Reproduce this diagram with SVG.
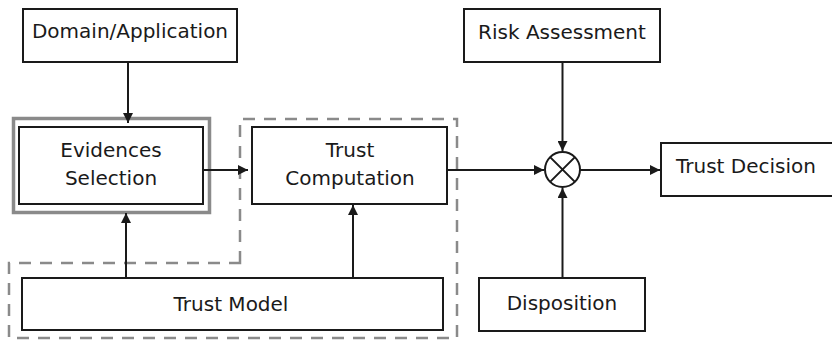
<svg xmlns="http://www.w3.org/2000/svg" width="832" height="342" viewBox="0 0 832 342">
  <style>
    .box { fill: #fff; stroke: #1a1a1a; stroke-width: 2; }
    .lbl { font-family: "DejaVu Sans", Verdana, sans-serif; font-size: 20px; fill: #1a1a1a; text-anchor: middle; }
    .wire { fill: none; stroke: #1a1a1a; stroke-width: 2; }
    .group { fill: none; stroke: #8a8a8a; stroke-width: 2.5; stroke-dasharray: 12 9; }
  </style>
  <defs>
    <marker id="arrow" viewBox="0 0 10 10" refX="10" refY="5" markerWidth="10" markerHeight="10" markerUnits="userSpaceOnUse" orient="auto">
      <path d="M0,0 L10,5 L0,10 Z" fill="#1a1a1a"/>
    </marker>
  </defs>
  <rect width="832" height="342" fill="#fff"/>

  <!-- dashed grouping of trust computation and trust model -->
  <path class="group" d="M240,263 V119 H457 V338 H9 V263 Z"/>

  <g id="domain">
    <rect class="box" x="23" y="9" width="214" height="53"/>
    <text class="lbl" x="130" y="38">Domain/Application</text>
  </g>

  <g id="evidences">
    <rect x="13.5" y="118.5" width="196" height="94" fill="none" stroke="#8a8a8a" stroke-width="3.5"/>
    <rect class="box" x="19" y="127" width="184" height="77"/>
    <text class="lbl" x="111" y="157">Evidences</text>
    <text class="lbl" x="111" y="185">Selection</text>
  </g>

  <g id="computation">
    <rect class="box" x="252" y="127" width="195" height="77"/>
    <text class="lbl" x="350" y="157">Trust</text>
    <text class="lbl" x="350" y="185">Computation</text>
  </g>

  <g id="model">
    <rect class="box" x="22" y="278" width="421" height="52"/>
    <text class="lbl" x="231" y="311">Trust Model</text>
  </g>

  <g id="risk">
    <rect class="box" x="464" y="9" width="196" height="53"/>
    <text class="lbl" x="562" y="39">Risk Assessment</text>
  </g>

  <g id="combiner">
    <circle cx="562.5" cy="169.5" r="17.5" fill="#fff" stroke="#1a1a1a" stroke-width="2"/>
    <path d="M550.1,157.1 L574.9,181.9 M574.9,157.1 L550.1,181.9" stroke="#1a1a1a" stroke-width="2"/>
  </g>

  <g id="decision">
    <rect class="box" x="661" y="143" width="175" height="53"/>
    <text class="lbl" x="746" y="173">Trust Decision</text>
  </g>

  <g id="disposition">
    <rect class="box" x="479" y="278" width="166" height="53"/>
    <text class="lbl" x="562" y="310">Disposition</text>
  </g>

  <g id="connectors">
    <line class="wire" x1="128" y1="62" x2="128" y2="123" marker-end="url(#arrow)"/>
    <line class="wire" x1="126" y1="278" x2="126" y2="213" marker-end="url(#arrow)"/>
    <line class="wire" x1="203" y1="170" x2="248" y2="170" marker-end="url(#arrow)"/>
    <line class="wire" x1="353" y1="278" x2="353" y2="205" marker-end="url(#arrow)"/>
    <line class="wire" x1="447" y1="170" x2="544" y2="170" marker-end="url(#arrow)"/>
    <line class="wire" x1="562.5" y1="62" x2="562.5" y2="151" marker-end="url(#arrow)"/>
    <line class="wire" x1="562.5" y1="278" x2="562.5" y2="188" marker-end="url(#arrow)"/>
    <line class="wire" x1="580" y1="170" x2="660" y2="170" marker-end="url(#arrow)"/>
  </g>
</svg>
